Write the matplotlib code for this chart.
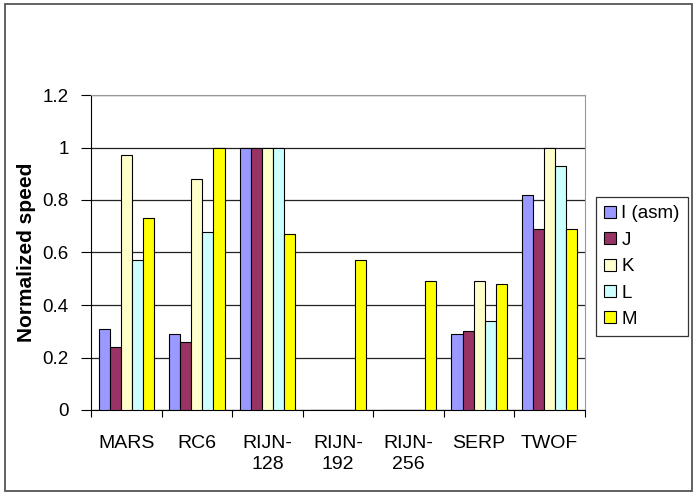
import matplotlib
matplotlib.use("Agg")
import matplotlib.pyplot as plt
import matplotlib.patches as mpatches
import numpy as np

plt.rcParams['font.family'] = ['Liberation Sans', 'DejaVu Sans']

categories = ['MARS', 'RC6', 'RIJN-\n128', 'RIJN-\n192', 'RIJN-\n256', 'SERP', 'TWOF']
series_names = ['I (asm)', 'J', 'K', 'L', 'M']
vals_i = [0.31, 0.29, 1.00, 0.0, 0.0, 0.29, 0.82]
vals_j = [0.24, 0.26, 1.00, 0.0, 0.0, 0.30, 0.69]
vals_k = [0.97, 0.88, 1.00, 0.0, 0.0, 0.49, 1.00]
vals_l = [0.57, 0.68, 1.00, 0.0, 0.0, 0.34, 0.93]
vals_m = [0.73, 1.00, 0.67, 0.57, 0.49, 0.48, 0.69]

SERIES = [vals_i, vals_j, vals_k, vals_l, vals_m]
COLORS = ['#9999FF', '#993366', '#FFFFCC', '#CCFFFF', '#FFFF00']

W, H = 698, 496
fig = plt.figure(figsize=(W / 100, H / 100), dpi=100)

# outer chart border
fig.patches.append(mpatches.Rectangle((5 / W, 1 - 491 / H), 687 / W, 487 / H,
                                      transform=fig.transFigure, fill=False,
                                      edgecolor='#555555', linewidth=1.3))

ax = fig.add_axes([91 / W, 1 - 410 / H, (585 - 91) / W, (410 - 95) / H])

x = np.arange(len(categories))
bw = 0.157
for k, (vals, col, name) in enumerate(zip(SERIES, COLORS, series_names)):
    pos = x + (k - 2) * bw
    ax.bar(pos, vals, width=bw, color=col, edgecolor='black', linewidth=0.8,
           label=name, zorder=3)

ax.set_xlim(-0.5, len(categories) - 0.5)
ax.set_ylim(0, 1.2)
ax.set_yticks(np.arange(0, 1.21, 0.2))
ax.set_yticklabels(['0', '0.2', '0.4', '0.6', '0.8', '1', '1.2'], fontsize=13.5)
ax.yaxis.grid(True, color='#222222', linewidth=0.9, zorder=0)
ax.set_axisbelow(True)

# category ticks between groups, labels centered
ax.set_xticks(np.arange(-0.5, len(categories), 1.0))
ax.set_xticklabels([])
ax.set_xticks(x, minor=True)
ax.set_xticklabels(categories, minor=True, fontsize=14, linespacing=1.3)
ax.tick_params(axis='x', which='minor', length=0, pad=18)
ax.tick_params(axis='x', which='major', length=5, direction='out')
ax.tick_params(axis='y', length=7, direction='out', pad=9)

for side in ['top', 'right']:
    ax.spines[side].set_color('#999999')
ax.spines['left'].set_color('black')
ax.spines['bottom'].set_color('black')

ax.set_ylabel('Normalized speed', fontsize=15, fontweight='bold', labelpad=5)

handles = [mpatches.Patch(facecolor=c, edgecolor='black', linewidth=0.8, label=n)
           for c, n in zip(COLORS, series_names)]
leg = fig.legend(handles=handles, loc='upper left',
                 bbox_to_anchor=(596 / W, 1 - 197 / H), fontsize=13.5,
                 frameon=True, fancybox=False, edgecolor='black',
                 handlelength=0.6, handleheight=0.6, handletextpad=0.3,
                 labelspacing=0.5, borderpad=0.45, borderaxespad=0)
leg.get_frame().set_linewidth(0.9)

fig.savefig('out.png', dpi=100)
